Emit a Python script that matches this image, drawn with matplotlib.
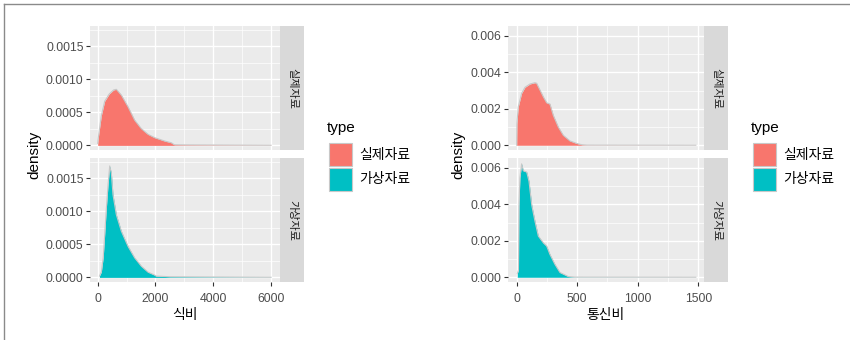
import matplotlib
matplotlib.use("Agg")
import matplotlib.pyplot as plt
from matplotlib.patches import Rectangle
from matplotlib.lines import Line2D
from matplotlib.ticker import FixedLocator

plt.rcParams["font.family"] = ["Liberation Sans", "Noto Sans CJK KR"]

# ── 데이터 (그림에서 읽은 밀도 곡선) ──────────────────────────────
types = ["실제자료", "가상자료"]
colors = ["#F8766D", "#00BFC4"]

# 식비
food_real_x = [0, 10, 40, 125, 242, 400, 550, 645, 818, 1050, 1280, 1510,
               1741, 1973, 2320, 2550, 2650, 3000, 6000]
food_real_d = [0.00003, 0.00008, 0.00018, 0.00045, 0.00067, 0.00078, 0.00084,
               0.00085, 0.000763, 0.000585, 0.000382, 0.000254, 0.000168,
               0.000117, 0.000066, 0.00004, 0.00001, 0.000008, 0.000002]
food_virt_x = [60, 125, 190, 242, 299, 357, 415, 472, 530, 645, 818, 1050,
               1280, 1510, 1741, 1973, 2020, 2500, 6000]
food_virt_d = [0.00002, 0.00008, 0.0003, 0.00065, 0.00105, 0.0014, 0.00169,
               0.00158, 0.00125, 0.00095, 0.0007, 0.00047, 0.000296, 0.00017,
               0.00008, 0.000035, 0.00002, 0.00001, 0.000002]

# 통신비
comm_real_x = [0, 2, 13, 41, 69, 110, 151, 165, 179, 220, 248, 275, 302, 344,
               385, 440, 496, 537, 580, 1480]
comm_real_d = [0, 0.0012, 0.0021, 0.00285, 0.00318, 0.00336, 0.00343, 0.0034,
               0.00321, 0.00266, 0.00233, 0.00226, 0.00165, 0.001, 0.00055,
               0.00024, 0.0001, 0.00003, 0.00001, 0.000003]
comm_virt_x = [5, 15, 19, 27, 41, 55, 83, 102, 124, 151, 179, 220, 248, 275,
               316, 358, 399, 426, 480, 1480]
comm_virt_d = [0.0002, 0.0004, 0.00398, 0.00546, 0.00622, 0.00584, 0.00577,
               0.00526, 0.00398, 0.00308, 0.00226, 0.00189, 0.00171, 0.00125,
               0.00071, 0.00026, 0.00013, 0.00004, 0.00001, 0.000003]

food_xticks = [0, 2000, 4000, 6000]
food_xminor = [1000, 3000, 5000]
food_yticks = [0, 0.0005, 0.0010, 0.0015]
food_ylabels = ["0.0000", "0.0005", "0.0010", "0.0015"]
food_yminor = [0.00025, 0.00075, 0.00125, 0.00175]

comm_xticks = [0, 500, 1000, 1500]
comm_xminor = [250, 750, 1250]
comm_yticks = [0, 0.002, 0.004, 0.006]
comm_ylabels = ["0.000", "0.002", "0.004", "0.006"]
comm_yminor = [0.001, 0.003, 0.005]

W, H = 850, 340
BG = "#EBEBEB"
STRIP = "#D9D9D9"
OUTLINE = "#C8C8C8"

fig = plt.figure(figsize=(8.5, 3.4), dpi=100)
fig.patch.set_facecolor("white")


def box(x0, y0, x1, y1):
    # pixel box (top-left origin) -> figure fraction
    return [x0 / W, (H - y1) / H, (x1 - x0) / W, (y1 - y0) / H]


def facet(px0, px1, sx1, xlim, ylim, series, xticks, xminor, yticks, ylabels,
          yminor, xlabel, ylab_x, leg_x):
    rows = [(26, 150), (158, 282)]
    for i, ((y0, y1), (xs, ds)) in enumerate(zip(rows, series)):
        ax = fig.add_axes(box(px0, y0, px1, y1))
        ax.set_facecolor(BG)
        for sp in ax.spines.values():
            sp.set_visible(False)
        ax.set_xlim(*xlim)
        ax.set_ylim(*ylim)
        ax.xaxis.set_major_locator(FixedLocator(xticks))
        ax.xaxis.set_minor_locator(FixedLocator(xminor))
        ax.yaxis.set_major_locator(FixedLocator(yticks))
        ax.yaxis.set_minor_locator(FixedLocator(yminor))
        ax.grid(which="major", color="white", lw=1.0, zorder=0)
        ax.grid(which="minor", color="white", lw=0.5, zorder=0)
        ax.set_axisbelow(True)
        ax.set_yticklabels(ylabels)
        ax.tick_params(which="major", length=2.6, width=0.8, color="#333333",
                       labelsize=8.8, labelcolor="#4D4D4D", pad=2)
        ax.tick_params(axis="x", which="major", pad=5)
        ax.tick_params(which="minor", length=0)
        if i == 0:
            ax.tick_params(axis="x", which="major", length=0, labelbottom=False)
        else:
            ax.set_xticklabels([str(t) for t in xticks])
        ax.fill_between(xs, ds, 0, color=colors[i], lw=0, zorder=2)
        ax.plot(xs, ds, color=OUTLINE, lw=0.8, zorder=3)

        sax = fig.add_axes(box(px1, y0, sx1, y1))
        sax.set_facecolor(STRIP)
        sax.set_xticks([])
        sax.set_yticks([])
        for sp in sax.spines.values():
            sp.set_visible(False)
        sax.text(0.5, 0.5, types[i], rotation=270, ha="center", va="center",
                 fontsize=8, color="#1A1A1A", transform=sax.transAxes)

    fig.text((px0 + px1) / 2 / W, (H - 315) / H, xlabel, ha="center",
             va="center", fontsize=10)
    fig.text(ylab_x / W, (H - 155) / H, "density", rotation=90,
             ha="center", va="center", fontsize=11)

    # legend
    fig.text(leg_x / W, (H - 128) / H, "type", ha="left", va="center",
             fontsize=11)
    for k, (lab, col) in enumerate(zip(types, colors)):
        ky0 = 143 + k * 25
        fig.add_artist(Rectangle(((leg_x + 2) / W, (H - ky0 - 23) / H),
                                 23 / W, 23 / H, facecolor=col,
                                 edgecolor=OUTLINE, lw=0.8,
                                 transform=fig.transFigure))
        fig.text((leg_x + 32) / W, (H - ky0 - 11.5) / H, lab, ha="left",
                 va="center", fontsize=10)


facet(90, 280, 304, (-267, 6311), (-0.00007, 0.00181),
      [(food_real_x, food_real_d), (food_virt_x, food_virt_d)],
      food_xticks, food_xminor, food_yticks, food_ylabels, food_yminor,
      "식비", 34, 327)

facet(507.7, 703.7, 728, (-74, 1545), (-0.00026, 0.00654),
      [(comm_real_x, comm_real_d), (comm_virt_x, comm_virt_d)],
      comm_xticks, comm_xminor, comm_yticks, comm_ylabels, comm_yminor,
      "통신비", 458, 751)

# 바깥 테두리 (위, 왼쪽)
fig.add_artist(Line2D([4 / W, 1], [(H - 4) / H, (H - 4) / H], color="#8A8A8A",
                      lw=1, transform=fig.transFigure))
fig.add_artist(Line2D([4 / W, 4 / W], [0, (H - 4) / H], color="#8A8A8A",
                      lw=1, transform=fig.transFigure))

fig.savefig("out.png", dpi=100, facecolor="white")
